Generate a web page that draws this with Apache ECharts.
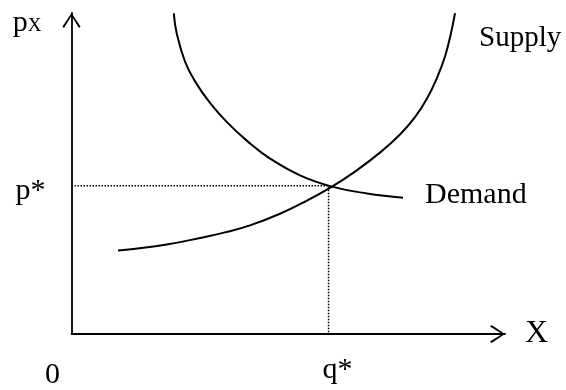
<!DOCTYPE html>
<html>
<head>
<meta charset="utf-8">
<script src="https://cdn.jsdelivr.net/npm/echarts@6/dist/echarts.min.js"></script>
<style>html,body{margin:0;padding:0;background:#fff}#c{width:566px;height:390px}</style>
</head>
<body>
<div id="c"></div>
<script>
// Supply curve (quantity X, price pX)
const supplyX = [10.73, 21.96, 29.64, 35.41, 41.18, 48.10, 54.09, 60.09, 65.40, 71.16, 75.78, 79.24, 82.01, 84.31, 86.16, 87.54, 88.47];
const supplyY = [25.98, 27.89, 29.91, 31.66, 33.84, 37.46, 41.39, 45.92, 50.60, 56.50, 62.15, 67.55, 73.35, 79.82, 86.47, 93.72, 99.94];
// Demand curve
const demandX = [23.60, 24.27, 26.18, 28.49, 31.95, 35.80, 40.42, 45.79, 52.71, 60.09, 68.17, 76.47];
const demandY = [99.88, 93.66, 84.89, 78.70, 71.99, 66.07, 60.24, 54.65, 49.43, 45.92, 43.78, 42.45];
// Equilibrium
const qStar = 59.3;
const pStar = 46.2;
// Tick labels
const xTickValues = [0, qStar];
const xTickLabels = ['0', 'q*'];
const yTickValues = [pStar];
const yTickLabels = ['p*'];
const seriesNames = ['Supply', 'Demand'];

const FONT = 'Liberation Serif';
const chevron = 'path://M9,0 L18,13.4 L16.5,15 L9,2.8 L1.5,15 L0,13.4 Z';

const zip = (xs, ys) => xs.map((x, i) => [x, ys[i]]);

const chart = echarts.init(document.getElementById('c'), null, {renderer: 'canvas'});
chart.setOption({
  animation: false,
  backgroundColor: '#fff',
  grid: {left: 71.5, right: 61, top: 13, bottom: 46, containLabel: false},
  xAxis: {
    type: 'value', min: 0, max: 100,
    name: 'X', nameLocation: 'end', nameGap: 20,
    nameTextStyle: {fontFamily: FONT, fontSize: 32, color: '#000', verticalAlign: 'middle', align: 'left'},
    axisLine: {show: true, symbol: ['none', chevron], symbolSize: [18, 15], symbolOffset: [0, -7.5],
      lineStyle: {color: '#000', width: 1.8}},
    axisTick: {show: false},
    splitLine: {show: false},
    axisLabel: {
      show: true, customValues: xTickValues, margin: 14,
      fontFamily: FONT, fontSize: 30, color: '#000',
      formatter: v => {
        const i = xTickValues.indexOf(v);
        const t = xTickLabels[i];
        return i === 0 ? '{z|' + t + '}' : '{q|' + t + '}';
      },
      rich: {
        z: {fontFamily: FONT, fontSize: 30, color: '#000', padding: [12, 38, 0, 0]},
        q: {fontFamily: FONT, fontSize: 30, color: '#000', padding: [7, 0, 0, 18]}
      }
    }
  },
  yAxis: {
    type: 'value', min: 0, max: 100,
    name: '{p|p}{s|X}', nameLocation: 'end', nameGap: -10,
    nameTextStyle: {align: 'right', verticalAlign: 'middle', padding: [0, 30, 0, 0],
      rich: {
        p: {fontFamily: FONT, fontSize: 30, color: '#000'},
        s: {fontFamily: FONT, fontSize: 19, color: '#000', verticalAlign: 'bottom', padding: [0, 0, 2, 0]}
      }},
    axisLine: {show: true, symbol: ['none', chevron], symbolSize: [18, 15], symbolOffset: [0, -7.5],
      lineStyle: {color: '#000', width: 1.8}},
    axisTick: {show: false},
    splitLine: {show: false},
    axisLabel: {
      show: true, customValues: yTickValues, margin: 26,
      formatter: v => '{p|' + yTickLabels[yTickValues.indexOf(v)] + '}',
      rich: {p: {fontFamily: FONT, fontSize: 30, color: '#000', padding: [10, 0, 0, 0]}}
    }
  },
  series: [
    {
      name: seriesNames[0], type: 'line', data: zip(supplyX, supplyY), smooth: 0.45,
      symbol: 'none', clip: false,
      lineStyle: {color: '#000', width: 2},
      endLabel: {show: true, formatter: '{a}', fontFamily: FONT, fontSize: 29, color: '#000',
        offset: [16, 25]}
    },
    {
      name: seriesNames[1], type: 'line', data: zip(demandX, demandY), smooth: 0.45,
      symbol: 'none', clip: false,
      lineStyle: {color: '#000', width: 2},
      endLabel: {show: true, formatter: '{a}', fontFamily: FONT, fontSize: 30, color: '#000',
        offset: [14, -3]}
    },
    {
      name: 'equilibrium', type: 'line', data: [[0, pStar], [qStar, pStar], [qStar, 0]],
      symbol: 'none', clip: false,
      lineStyle: {color: '#000', width: 1.5, type: 'dotted'}
    }
  ]
});
</script>
</body>
</html>
